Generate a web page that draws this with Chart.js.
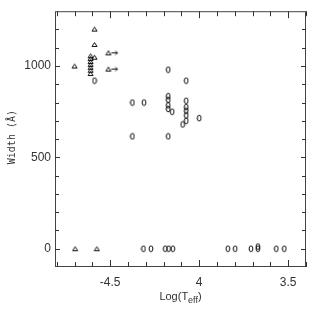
<!DOCTYPE html>
<html lang="en">
<head>
  <meta charset="UTF-8" />
  <title>Width vs Log(Teff)</title>
  <script src="https://cdn.jsdelivr.net/npm/chart.js"></script>
  <style>
    body { margin: 0; background: #fff; }
    #chart { display: block; }
  </style>
</head>
<body>
  <canvas id="chart" width="327" height="316"></canvas>

  <script>
    // triangles
    const triLogT  = [4.70, 4.61, 4.61, 4.61, 4.61, 4.61, 4.61, 4.61, 4.588, 4.588, 4.588, 4.697, 4.575];
    const triWidth = [1000, 1056, 1041, 1025, 1009, 993, 977, 959, 1202, 1118, 1048, 0, 0];

    // triangles with arrow (limits)
    const limLogT  = [4.51, 4.51];
    const limWidth = [1072, 983];

    // circles
    const circLogT  = [4.588, 4.375, 4.31, 4.375, 4.174, 4.174, 4.073, 4.174, 4.174, 4.174, 4.174, 4.152,
                       4.073, 4.073, 4.073, 4.073, 4.073, 4.093, 4.0,
                       4.313, 4.271, 4.191, 4.172, 4.148, 3.839, 3.798, 3.709, 3.67, 3.67, 3.567, 3.522];
    const circWidth = [920, 800, 800, 615, 615, 980, 920, 835, 815, 785, 765, 750,
                       810, 775, 755, 730, 700, 680, 715,
                       0, 0, 0, 0, 0, 0, 0, 0, 0, 12, 0, 0];

    // axis ticks
    const xMajor = [4.5, 4.0, 3.5];
    const xLabels = ['-4.5', '4', '3.5'];
    const xMinor = [4.8, 4.7, 4.6, 4.4, 4.3, 4.2, 4.1, 3.9, 3.8, 3.7, 3.6, 3.4];
    const yMajor = [0, 500, 1000];
    const yMinor = [100, 200, 300, 400, 600, 700, 800, 900, 1100, 1200];

    const ink = '#111';

    function pts(xs, ys) { return xs.map((x, i) => ({ x: x, y: ys[i] })); }

    // little marker images
    function makeCircle() {
      const c = document.createElement('canvas');
      c.width = 6; c.height = 8;
      const g = c.getContext('2d');
      g.strokeStyle = ink; g.lineWidth = 1;
      g.beginPath(); g.ellipse(3, 4, 1.9, 2.9, 0, 0, Math.PI * 2); g.stroke();
      return c;
    }
    function makeTri() {
      const c = document.createElement('canvas');
      c.width = 7; c.height = 7;
      const g = c.getContext('2d');
      g.strokeStyle = ink; g.lineWidth = 1;
      g.beginPath(); g.moveTo(3.5, 1.5); g.lineTo(6, 5.5); g.lineTo(1, 5.5); g.closePath(); g.stroke();
      return c;
    }
    function makeLimit() {
      const c = document.createElement('canvas');
      c.width = 24; c.height = 7;
      const g = c.getContext('2d');
      g.strokeStyle = ink; g.lineWidth = 1;
      g.beginPath(); g.moveTo(12, 1.5); g.lineTo(14.5, 5.5); g.lineTo(9.5, 5.5); g.closePath(); g.stroke();
      g.beginPath(); g.moveTo(15, 3.5); g.lineTo(21, 3.5); g.stroke();
      g.beginPath(); g.moveTo(19, 1.5); g.lineTo(21, 3.5); g.lineTo(19, 5.5); g.stroke();
      return c;
    }

    const framePlugin = {
      id: 'frame',
      afterDraw(chart) {
        const ctx = chart.ctx, a = chart.chartArea;
        const xs = chart.scales.x, ys = chart.scales.y;
        ctx.save();
        ctx.lineWidth = 1;
        ctx.strokeStyle = '#444';
        ctx.strokeRect(a.left + 0.5, a.top + 0.5, a.right - a.left - 1, a.bottom - a.top - 1);

        ctx.strokeStyle = '#333';
        ctx.beginPath();
        xMajor.forEach(v => {
          const px = Math.round(xs.getPixelForValue(v)) + 0.5;
          ctx.moveTo(px, a.bottom); ctx.lineTo(px, a.bottom - 7);
          ctx.moveTo(px, a.top); ctx.lineTo(px, a.top + 7);
        });
        xMinor.forEach(v => {
          const px = Math.round(xs.getPixelForValue(v)) + 0.5;
          ctx.moveTo(px, a.bottom); ctx.lineTo(px, a.bottom - 5);
          ctx.moveTo(px, a.top); ctx.lineTo(px, a.top + 5);
        });
        yMajor.forEach(v => {
          const py = Math.round(ys.getPixelForValue(v)) + 0.5;
          ctx.moveTo(a.left, py); ctx.lineTo(a.left + 5, py);
          ctx.moveTo(a.right, py); ctx.lineTo(a.right - 5, py);
        });
        yMinor.forEach(v => {
          const py = Math.round(ys.getPixelForValue(v)) + 0.5;
          ctx.moveTo(a.left, py); ctx.lineTo(a.left + 4, py);
          ctx.moveTo(a.right, py); ctx.lineTo(a.right - 4, py);
        });
        ctx.stroke();

        // axis titles
        ctx.fillStyle = '#333';
        ctx.textBaseline = 'alphabetic';
        const main = 'Log(T', sub = 'eff', tail = ')';
        ctx.font = '11px "Liberation Sans", Arial, sans-serif';
        const w1 = ctx.measureText(main).width, w3 = ctx.measureText(tail).width;
        ctx.font = '9px "Liberation Sans", Arial, sans-serif';
        const w2 = ctx.measureText(sub).width;
        let x0 = (a.left + a.right) / 2 - (w1 + w2 + w3) / 2;
        ctx.font = '11px "Liberation Sans", Arial, sans-serif';
        ctx.fillText(main, x0, 300);
        ctx.font = '9px "Liberation Sans", Arial, sans-serif';
        ctx.fillText(sub, x0 + w1, 303);
        ctx.font = '11px "Liberation Sans", Arial, sans-serif';
        ctx.fillText(tail, x0 + w1 + w2, 300);

        ctx.translate(15, (a.top + a.bottom) / 2 - 2);
        ctx.rotate(-Math.PI / 2);
        ctx.textAlign = 'center';
        ctx.font = '10px "DejaVu Sans Mono", monospace';
        ctx.fillText('Width (Å)', 0, 0);
        ctx.restore();
      }
    };

    new Chart(document.getElementById('chart'), {
      type: 'scatter',
      data: {
        datasets: [
          { label: 'tri', data: pts(triLogT, triWidth), pointStyle: makeTri() },
          { label: 'limit', data: pts(limLogT, limWidth), pointStyle: makeLimit() },
          { label: 'circ', data: pts(circLogT, circWidth), pointStyle: makeCircle() }
        ]
      },
      options: {
        responsive: false,
        animation: false,
        layout: { padding: { top: 6, right: 21, left: 0, bottom: 0 } },
        plugins: { legend: { display: false }, tooltip: { enabled: false } },
        scales: {
          x: {
            type: 'linear',
            reverse: true,
            min: 3.4,
            max: 4.81,
            border: { display: false },
            grid: { display: false, drawTicks: false },
            afterBuildTicks: s => { s.ticks = xMajor.map(v => ({ value: v })); },
            afterFit: s => { s.height = 49; },
            ticks: {
              padding: 8,
              color: '#333',
              font: { family: '"Liberation Sans", Arial, sans-serif', size: 12 },
              callback: v => xLabels[xMajor.indexOf(v)]
            }
          },
          y: {
            min: -100,
            max: 1300,
            border: { display: false },
            grid: { display: false, drawTicks: false },
            afterBuildTicks: s => { s.ticks = yMajor.map(v => ({ value: v })); },
            afterFit: s => { s.width = 55; },
            ticks: {
              padding: 4,
              color: '#333',
              font: { family: '"Liberation Sans", Arial, sans-serif', size: 12 },
              callback: v => String(v)
            }
          }
        }
      },
      plugins: [framePlugin]
    });
  </script>
</body>
</html>
